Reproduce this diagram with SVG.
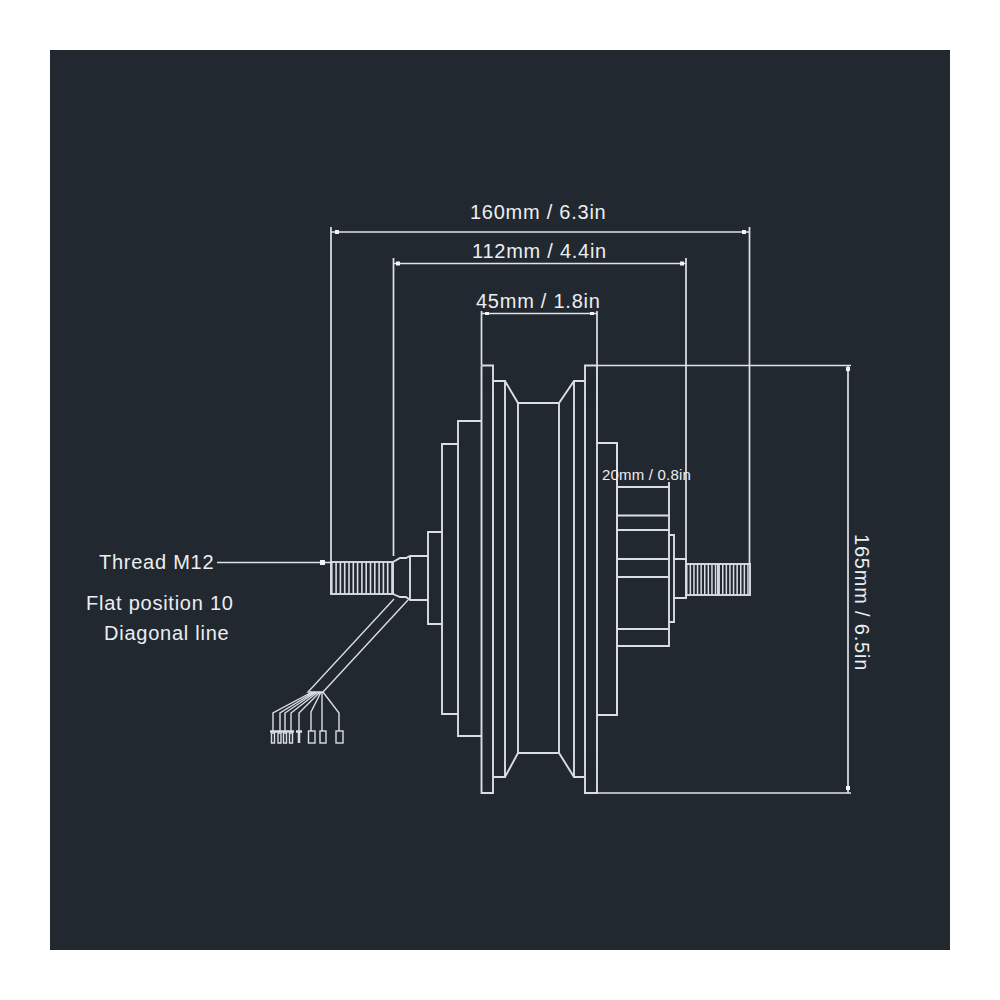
<svg xmlns="http://www.w3.org/2000/svg" width="1000" height="1000" viewBox="0 0 1000 1000">
<style>
.l{fill:none;stroke:#dadee3;stroke-width:1.9;stroke-linejoin:miter}
.d{fill:none;stroke:#dfe2e6;stroke-width:1.7}
.w{fill:none;stroke:#dadee3;stroke-width:1.4}
.h{fill:none;stroke:#d9dde2;stroke-width:32;stroke-dasharray:1.6 2.7}
.a{fill:#f2f3f5}
text{font-family:"Liberation Sans",Arial,sans-serif;fill:#eceef0;font-size:20px;letter-spacing:.75px}
</style>
<rect width="1000" height="1000" fill="#fff"/>
<rect x="50" y="50" width="900" height="900" fill="#222830"/>

<g id="hub">
<path class="l" d="M481.500 365.500V793H493V365.500H481.500M493 381H505V777H493M505 381L518 403H559L574 381H585V365.500H597V793H585V777H574L559 753H518L505 777M518 403V753M559 403V753M574 381V777M585 381V777"/>
<path class="l" d="M481.500 421H458V736H481.500M458 444H442V714H458M442 532H428V624H442"/>
<path class="l" d="M597 443H617V715H597"/>
<path class="l" d="M617 443V715M617 487H669V646H617M617 515.500H669M617 530H669M617 559H669M617 577H669M617 629H669M669 482V487"/>
<path class="l" d="M669 535H674V622H669M674 559H686V598H674"/>
</g>

<g id="axle-left">
<rect class="l" x="331" y="562" width="62" height="32"/>
<line class="h" x1="331" y1="578" x2="393" y2="578" style="stroke-dasharray:1.6 2.7"/>
<path class="l" d="M393 562L400 558H406L410 556H428M393 594L400 597H406L410 600H428M410 556V600"/>
</g>

<g id="axle-right">
<rect class="l" x="686" y="564" width="64" height="31"/>
<line class="h" x1="686" y1="579.500" x2="750" y2="579.500" style="stroke-width:31;stroke-dasharray:1.5 2.1"/>
<line class="l" x1="718" y1="564" x2="718" y2="595"/>
</g>

<g id="cable">
<path class="w" d="M394 599L308 692H323L408 600"/>
<path class="w" d="M312 692L273 713V731M314 692L280 713V731M316 692L285 713V731M318 692L291 713V731M320 692L299 713V731M321 692L311 712V731M322 692V731M323 692L339 713V731"/>
<path class="w" d="M270 731.500H294" style="stroke-width:2.500"/>
<path class="w" d="M271.500 733h3v10h-3zM278 733h3v10h-3zM283.500 733h3v10h-3zM289.500 733h3v10h-3z"/>
<path class="w" d="M296 731.500H302M299 732V743" style="stroke-width:2.500"/>
<rect class="w" x="308.500" y="731" width="6.500" height="12"/>
<rect class="w" x="320" y="731" width="6" height="12"/>
<rect class="w" x="336" y="731" width="7" height="12"/>
</g>

<g id="connectors">
<path class="d" d="M331 227V562M749.500 227V564M331 232H749.500"/>
<path class="d" d="M393.500 258V556M686 258V560M393.500 263.500H686"/>
<path class="d" d="M481.500 311V365M597 311V365M481.500 313.500H597"/>
<path class="d" d="M597 365.500H851M597 793H851M848 365.500V793"/>
<path class="d" d="M217 562.500H331"/>
<rect class="a" x="335" y="230" width="4" height="4"/><rect class="a" x="742" y="230" width="4" height="4"/>
<rect class="a" x="396" y="261.500" width="4" height="4"/><rect class="a" x="680" y="261.500" width="4" height="4"/>
<rect class="a" x="485" y="312" width="4" height="3"/><rect class="a" x="590" y="312" width="4" height="3"/>
<rect class="a" x="846" y="367" width="4" height="4"/><rect class="a" x="846" y="786" width="4" height="4"/>
<rect class="a" x="320" y="560" width="5" height="5"/>
</g>

<g id="labels">
<text x="470" y="219">160mm / 6.3in</text>
<text x="472" y="258">112mm / 4.4in</text>
<text x="476" y="308">45mm / 1.8in</text>
<text x="602" y="480" style="font-size:15px;letter-spacing:.2px">20mm / 0.8in</text>
<text transform="translate(855 534) rotate(90)" style="letter-spacing:.8px">165mm / 6.5in</text>
<text x="99" y="569">Thread M12</text>
<text x="86" y="610">Flat position 10</text>
<text x="104" y="640">Diagonal line</text>
</g>
</svg>
